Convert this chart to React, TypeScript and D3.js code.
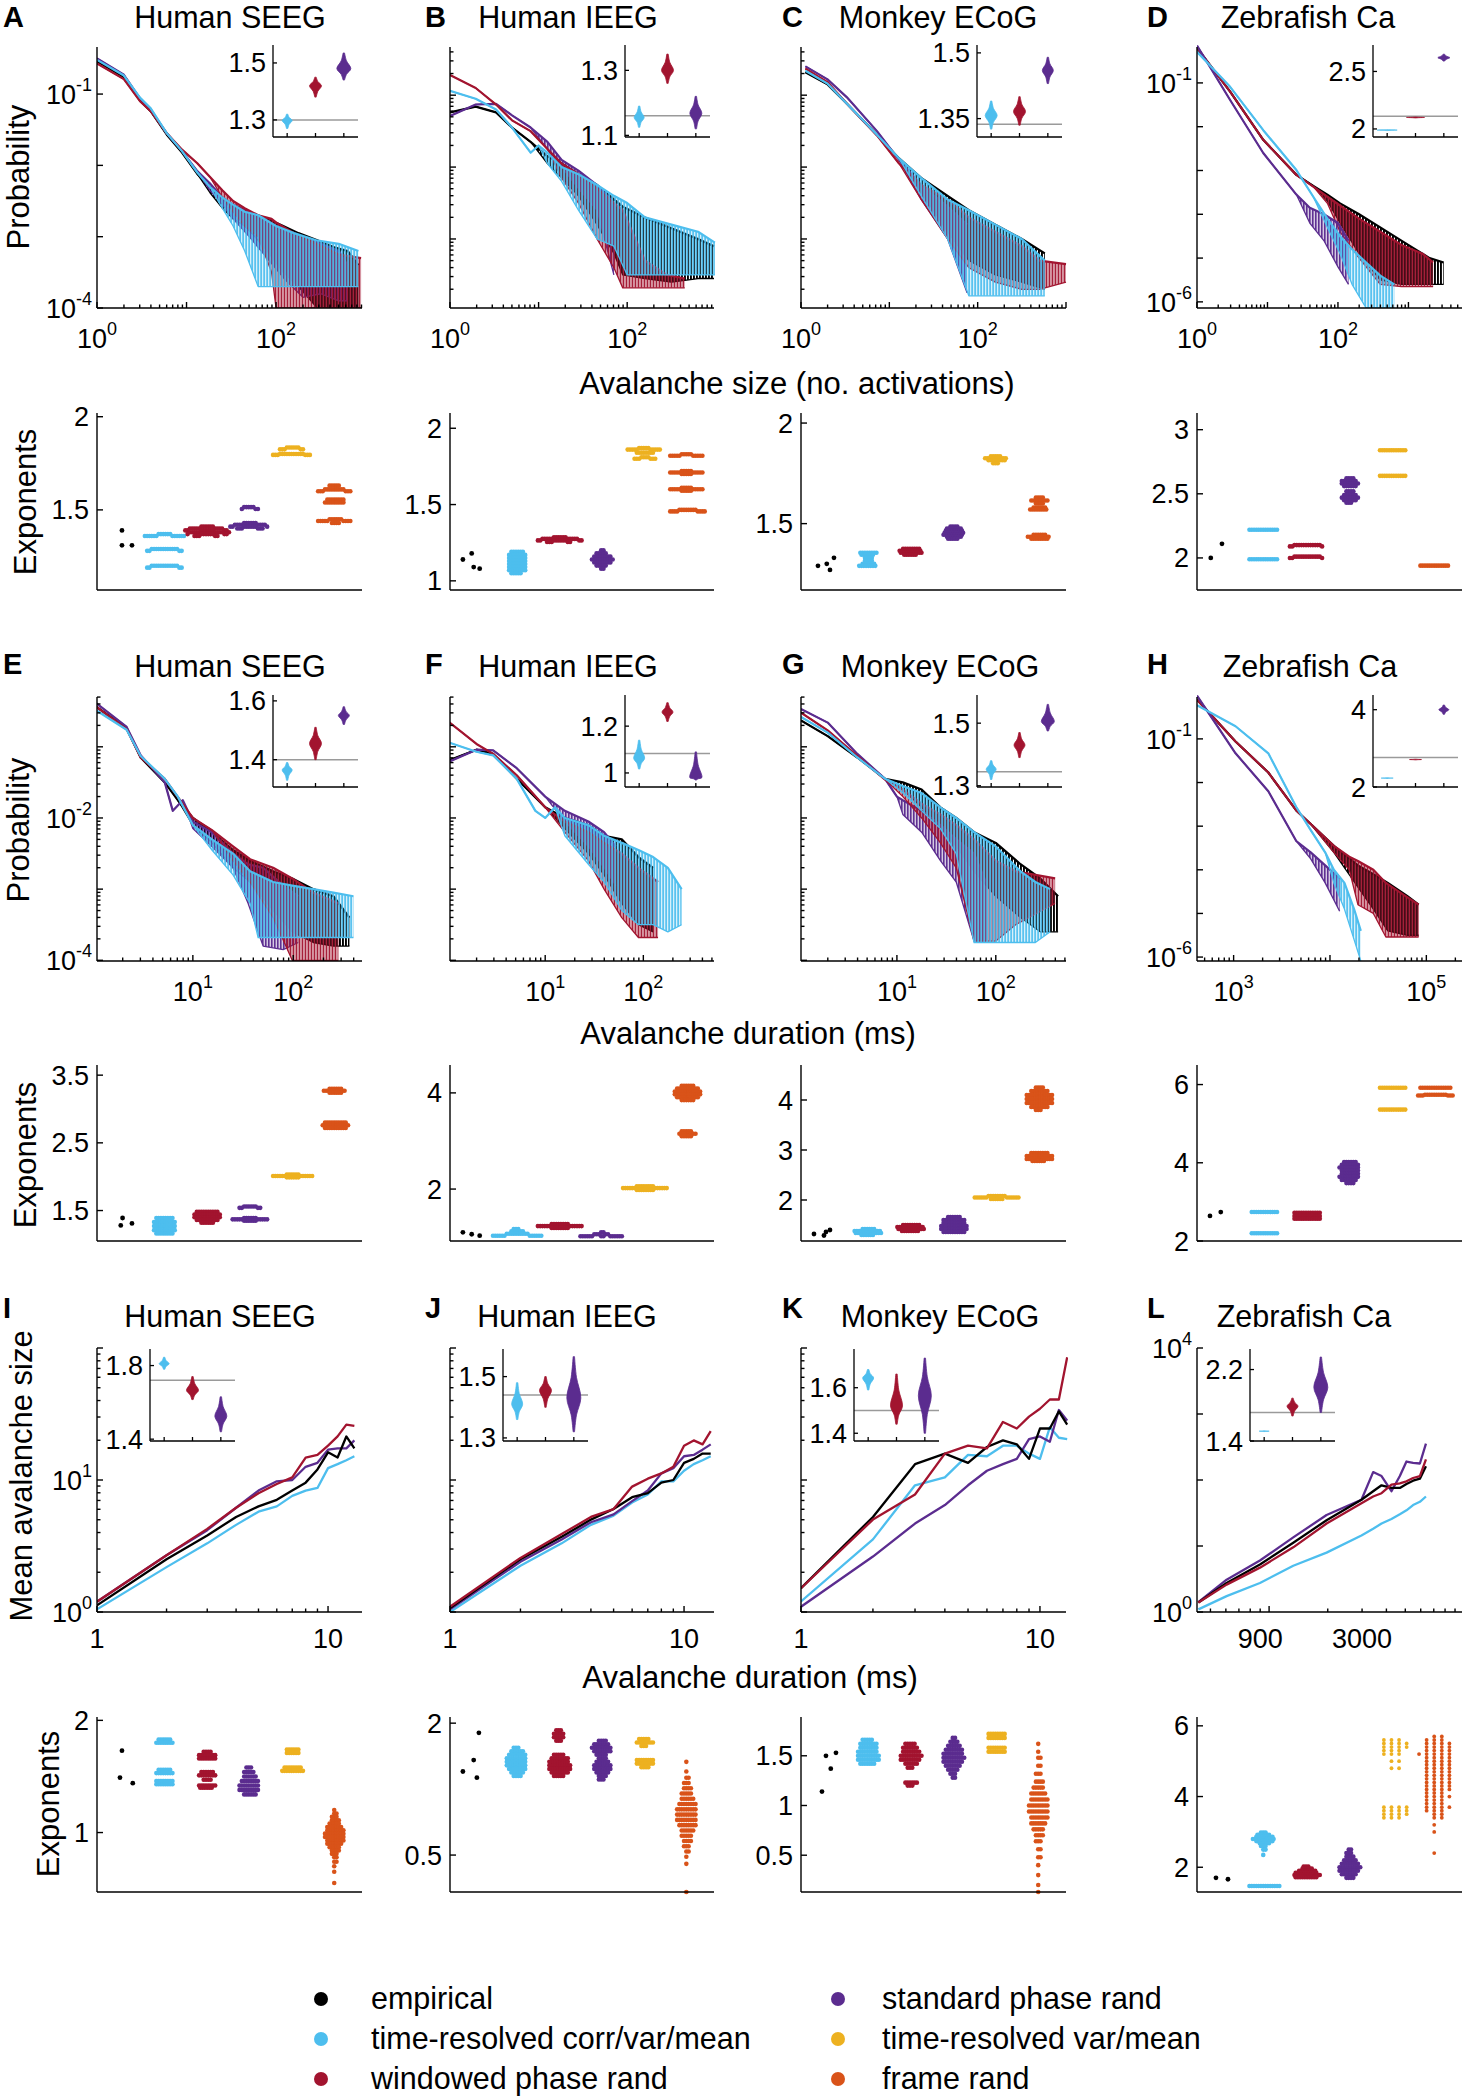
import React from "react";
import * as d3 from "d3";

const FONT = "'Liberation Sans', Arial, Helvetica, sans-serif";
const COL = { emp: "#000000", tr: "#4DBEEE", win: "#A2142F", std: "#5B2C8F", trv: "#EDB120", frame: "#D95319" };

const legendLabels = ["empirical", "time-resolved corr/var/mean", "windowed phase rand", "standard phase rand", "time-resolved var/mean", "frame rand"];
const legendKeys = ["emp", "tr", "win", "std", "trv", "frame"];
const datasetTitles = ["Human SEEG", "Human IEEG", "Monkey ECoG", "Zebrafish Ca"];
const letters = [["A", "B", "C", "D"], ["E", "F", "G", "H"], ["I", "J", "K", "L"]];

// ---------- Avalanche size distributions: [log10 size, log10 P (upper), log10 P (lower, noisy tail)] ----------
const sizeA = {
  emp: [[0,-0.54],[0.3,-0.76],[0.48,-1.09],[0.6,-1.24],[0.78,-1.57],[0.95,-1.82],[1.12,-2.12],[1.26,-2.3,-2.38],[1.4,-2.45,-2.6],[1.52,-2.6,-2.75],[1.65,-2.62,-2.85],[1.75,-2.68,-2.98],[1.9,-2.75,-3.2],[2.08,-2.85,-3.5],[2.25,-2.95,-3.7],[2.46,-3.05,-4],[2.65,-3.15,-4],[2.8,-3.2,-4],[2.92,-3.4,-4]],
  std: [[0,-0.5],[0.3,-0.73],[0.48,-1.06],[0.6,-1.22],[0.78,-1.55],[0.95,-1.8],[1.12,-2.08],[1.26,-2.25,-2.35],[1.4,-2.45,-2.55],[1.52,-2.55,-2.75],[1.7,-2.65,-3.0],[1.9,-2.8,-3.3],[2.1,-2.9,-3.6],[2.3,-3.0,-3.85],[2.5,-3.1,-3.8],[2.7,-3.2,-3.9],[2.8,-3.4,-3.9]],
  win: [[0,-0.57],[0.3,-0.79],[0.48,-1.1],[0.6,-1.24],[0.78,-1.55],[0.95,-1.78],[1.12,-1.97],[1.26,-2.16],[1.4,-2.35,-2.45],[1.52,-2.5,-2.65],[1.65,-2.6,-2.85],[1.8,-2.7,-3.0],[1.95,-2.75,-3.5],[2.0,-2.8,-4],[2.2,-2.95,-4],[2.45,-3.1,-4],[2.7,-3.25,-4],[2.95,-3.3,-4]],
  tr: [[0,-0.52],[0.3,-0.74],[0.48,-1.05],[0.6,-1.2],[0.78,-1.55],[0.95,-1.8],[1.12,-2.1],[1.26,-2.3],[1.4,-2.45,-2.6],[1.52,-2.55,-2.85],[1.65,-2.65,-3.2],[1.8,-2.7,-3.7],[2.0,-2.85,-3.7],[2.2,-2.95,-3.7],[2.45,-3.05,-3.7],[2.7,-3.1,-3.7],[2.92,-3.2,-3.7]],
};
const sizeB = {
  emp: [[0,-1.24],[0.29,-1.16],[0.52,-1.24],[0.7,-1.45],[0.91,-1.65],[1.1,-1.85,-1.95],[1.26,-1.95,-2.15],[1.45,-2.1,-2.4],[1.66,-2.25,-2.8],[1.85,-2.45,-3.2],[1.95,-2.55,-3.5],[2.2,-2.7,-3.55],[2.5,-2.85,-3.6],[2.8,-3.0,-3.55],[2.98,-3.1,-3.55]],
  std: [[0,-1.29],[0.29,-1.13],[0.52,-1.12],[0.7,-1.28],[0.91,-1.45],[1.1,-1.65,-1.75],[1.26,-1.9,-2.0],[1.45,-2.05,-2.3],[1.66,-2.25,-2.6],[1.85,-2.5,-3.5]],
  win: [[0,-0.72],[0.29,-0.9],[0.52,-1.13],[0.7,-1.35],[0.91,-1.5],[1.1,-1.75],[1.26,-1.95,-2.15],[1.45,-2.1,-2.5],[1.66,-2.3,-3.0],[1.85,-2.5,-3.4],[1.95,-2.6,-3.68],[2.2,-3.3,-3.68],[2.45,-3.5,-3.68],[2.65,-3.55,-3.68]],
  tr: [[0,-0.94],[0.29,-1.05],[0.52,-1.2],[0.7,-1.45],[0.91,-1.8],[1.0,-1.7],[1.1,-1.8,-1.95],[1.26,-2.0,-2.2],[1.45,-2.1,-2.6],[1.66,-2.25,-3.0],[1.85,-2.4,-3.1],[2.0,-2.5,-3.5],[2.2,-2.7,-3.5],[2.5,-2.8,-3.5],[2.8,-2.9,-3.5],[2.99,-3.05,-3.5]],
};
const sizeC = {
  emp: [[0.05,-0.68],[0.3,-0.85],[0.52,-1.12],[0.86,-1.55],[1.11,-1.88],[1.36,-2.15,-2.35],[1.66,-2.4,-2.9],[1.9,-2.6,-3.3],[2.2,-2.8,-3.5],[2.5,-3.0,-3.6],[2.76,-3.2,-3.7]],
  std: [[0.05,-0.6],[0.3,-0.78],[0.52,-1.03],[0.86,-1.5],[1.11,-1.9],[1.36,-2.25,-2.45],[1.66,-2.55,-3.0],[1.88,-2.8,-3.75]],
  win: [[0.05,-0.63],[0.3,-0.82],[0.52,-1.12],[0.86,-1.56],[1.11,-1.95],[1.36,-2.25,-2.45],[1.66,-2.45,-3.0],[1.9,-2.7,-3.4],[2.2,-2.9,-3.6],[2.5,-3.1,-3.7],[2.7,-3.3,-3.7],[3.0,-3.35,-3.6]],
  tr: [[0.05,-0.66],[0.3,-0.84],[0.52,-1.12],[0.86,-1.55],[1.11,-1.88],[1.36,-2.15,-2.4],[1.66,-2.45,-3.0],[1.9,-2.6,-3.79],[2.2,-2.8,-3.79],[2.5,-3.0,-3.79],[2.76,-3.3,-3.79]],
};
const sizeD = {
  emp: [[0,-0.2],[0.47,-1.2],[0.94,-2.3],[1.41,-3.1],[1.65,-3.35],[1.85,-3.55,-3.7],[2.03,-3.75,-4.2],[2.3,-4.0,-4.9],[2.6,-4.3,-5.5],[2.9,-4.6,-5.6],[3.1,-4.8,-5.6],[3.3,-5.0,-5.6],[3.5,-5.1,-5.6]],
  std: [[0,-0.15],[0.47,-1.39],[0.94,-2.6],[1.41,-3.55],[1.6,-3.85,-4.2],[1.8,-4.0,-4.6],[2.0,-4.2,-5.2],[2.15,-4.6,-5.6]],
  win: [[0,-0.2],[0.47,-1.2],[0.94,-2.3],[1.41,-3.1],[1.65,-3.37],[1.85,-3.6,-3.75],[2.03,-3.8,-4.4],[2.3,-4.1,-5.0],[2.6,-4.4,-5.6],[2.9,-4.7,-5.65],[3.2,-4.9,-5.65],[3.35,-5.1,-5.65]],
  tr: [[0,-0.29],[0.47,-1.09],[0.94,-2.08],[1.41,-2.99],[1.65,-3.6],[1.85,-4.1,-4.3],[2.03,-4.5,-4.9],[2.2,-4.8,-5.6],[2.4,-5.1,-6.14],[2.6,-5.4,-6.14],[2.8,-5.6,-6.14]],
};

// ---------- Avalanche duration distributions ----------
const durE = {
  emp: [[0.04,-0.44],[0.34,-0.74],[0.48,-1.15],[0.72,-1.5],[0.85,-1.75],[1.0,-2.0,-2.1],[1.19,-2.2,-2.35],[1.4,-2.45,-2.7],[1.57,-2.6,-2.9],[1.8,-2.75,-3.3],[1.99,-2.85,-3.6],[2.2,-3.0,-3.75],[2.4,-3.1,-3.8],[2.56,-3.4,-3.8]],
  std: [[0.04,-0.39],[0.34,-0.72],[0.48,-1.12],[0.72,-1.5],[0.8,-1.9],[0.9,-1.75],[1.0,-2.05,-2.15],[1.19,-2.2,-2.4],[1.4,-2.5,-2.7],[1.55,-2.65,-3.2],[1.7,-2.7,-3.8],[1.9,-2.95,-3.85],[2.05,-3.1,-3.75]],
  win: [[0.04,-0.44],[0.34,-0.75],[0.48,-1.15],[0.72,-1.45],[1.0,-2.0],[1.19,-2.17],[1.4,-2.4,-2.6],[1.57,-2.58,-2.9],[1.8,-2.7,-3.4],[1.99,-2.85,-4],[2.2,-3.05,-4],[2.45,-3.2,-4]],
  tr: [[0.04,-0.49],[0.34,-0.76],[0.48,-1.13],[0.72,-1.45],[0.85,-1.7],[1.0,-2.1],[1.19,-2.3,-2.45],[1.4,-2.5,-2.8],[1.57,-2.75,-3.2],[1.65,-2.8,-3.68],[1.8,-2.9,-3.68],[1.99,-2.95,-3.68],[2.2,-3.0,-3.68],[2.4,-3.05,-3.68],[2.6,-3.1,-3.68]],
};
const durF = {
  emp: [[0,-1.2],[0.3,-1.04],[0.47,-1.1],[0.71,-1.45],[1.0,-1.85],[1.2,-2.0,-2.15],[1.44,-2.1,-2.5],[1.6,-2.25,-2.8],[1.78,-2.3,-3.2],[1.95,-2.55,-3.5],[2.1,-2.7,-3.6]],
  std: [[0,-1.22],[0.3,-1.04],[0.47,-1.05],[0.71,-1.3],[1.0,-1.7],[1.2,-1.9,-2.05],[1.44,-2.05,-2.4],[1.6,-2.2,-2.7],[1.72,-2.4,-2.95]],
  win: [[0,-0.63],[0.3,-0.96],[0.47,-1.1],[0.71,-1.4],[1.0,-1.85],[1.2,-2.05,-2.2],[1.44,-2.2,-2.6],[1.6,-2.35,-3.0],[1.78,-2.5,-3.4],[1.95,-2.7,-3.68],[2.15,-2.9,-3.68]],
  tr: [[0,-0.93],[0.3,-1.07],[0.47,-1.12],[0.71,-1.45],[0.9,-1.9],[1.0,-2.0],[1.1,-1.85],[1.2,-2.0,-2.25],[1.44,-2.1,-2.65],[1.6,-2.25,-2.9],[1.78,-2.35,-3.3],[1.95,-2.45,-3.5],[2.1,-2.55,-3.5],[2.25,-2.7,-3.6],[2.39,-3.0,-3.5]],
};
const durG = {
  emp: [[0.03,-0.63],[0.3,-0.85],[0.6,-1.15],[0.88,-1.45],[1.06,-1.5,-1.6],[1.25,-1.6,-1.85],[1.44,-1.85,-2.15],[1.6,-2.0,-2.4],[1.78,-2.2,-2.75],[2.0,-2.35,-3.1],[2.25,-2.65,-3.4],[2.45,-2.85,-3.6],[2.63,-3.1,-3.6]],
  std: [[0.03,-0.47],[0.3,-0.66],[0.6,-1.1],[0.88,-1.45],[1.0,-1.7],[1.06,-1.75,-1.95],[1.25,-1.9,-2.2],[1.44,-2.1,-2.6],[1.6,-2.3,-2.9],[1.78,-2.5,-3.73],[1.9,-2.9,-3.73]],
  win: [[0.03,-0.52],[0.3,-0.77],[0.6,-1.13],[0.88,-1.46],[1.06,-1.6,-1.7],[1.25,-1.8,-2.0],[1.44,-1.95,-2.35],[1.6,-2.1,-2.7],[1.78,-2.3,-3.73],[2.0,-2.6,-3.73],[2.2,-2.75,-3.5],[2.6,-2.85,-3.2]],
  tr: [[0.03,-0.58],[0.3,-0.8],[0.6,-1.15],[0.88,-1.45],[1.06,-1.55,-1.65],[1.25,-1.65,-1.9],[1.44,-1.85,-2.15],[1.6,-2.0,-2.5],[1.78,-2.2,-3.75],[2.0,-2.4,-3.75],[2.25,-2.75,-3.75],[2.4,-2.9,-3.75],[2.55,-3.0,-3.6]],
};
const durH = {
  emp: [[2.62,-0.1],[3.02,-1.06],[3.36,-1.77],[3.65,-2.64],[3.8,-2.95],[4.04,-3.45,-3.6],[4.29,-3.9,-4.4],[4.45,-4.1,-4.9],[4.6,-4.3,-5.4],[4.8,-4.6,-5.5],[4.92,-4.8,-5.5]],
  std: [[2.62,-0.01],[3.02,-1.33],[3.36,-2.2],[3.65,-3.34],[3.8,-3.6,-3.75],[3.95,-3.9,-4.3],[4.1,-4.2,-4.95]],
  win: [[2.62,-0.1],[3.02,-1.06],[3.36,-1.77],[3.65,-2.64],[3.8,-2.95],[4.04,-3.45,-3.6],[4.2,-3.7,-4.0],[4.29,-3.8,-4.8],[4.45,-4.0,-5.0],[4.58,-4.3,-5.54],[4.75,-4.55,-5.54],[4.92,-4.8,-5.54]],
  tr: [[2.62,-0.23],[3.02,-0.71],[3.36,-1.33],[3.65,-2.56],[3.8,-3.09],[3.95,-3.6],[4.04,-4.0,-4.3],[4.15,-4.3,-4.9],[4.25,-4.9,-5.6],[4.32,-5.4,-6.09]],
};

// ---------- Mean size vs duration (log10 mean size) ----------
const durationsIJK = [1, 2, 3, 4, 5, 6, 7, 8, 9, 10, 11, 12, 13];
const scalI = {
  emp: [0.05, 0.4, 0.58, 0.72, 0.8, 0.85, 0.92, 0.98, 1.08, 1.21, 1.17, 1.33, 1.24],
  win: [0.078, 0.43, 0.63, 0.79, 0.9, 0.97, 1.02, 1.17, 1.19, 1.26, 1.33, 1.42, 1.41],
  std: [0.078, 0.43, 0.62, 0.79, 0.92, 0.99, 1.0, 1.1, 1.13, 1.23, 1.24, 1.24, 1.3],
  tr: [0.02, 0.34, 0.52, 0.66, 0.76, 0.8, 0.88, 0.92, 0.94, 1.09, 1.12, 1.15, 1.18],
};
const scalJ = {
  emp: [0.03, 0.4, 0.57, 0.7, 0.78, 0.87, 0.9, 0.98, 1.0, 1.13, 1.16, 1.2, 1.2],
  win: [0.04, 0.41, 0.59, 0.72, 0.78, 0.95, 1.01, 1.05, 1.1, 1.26, 1.3, 1.27, 1.37],
  std: [0.02, 0.38, 0.55, 0.68, 0.74, 0.84, 0.92, 1.05, 1.09, 1.18, 1.19, 1.23, 1.27],
  tr: [0.0, 0.35, 0.52, 0.66, 0.73, 0.83, 0.89, 0.99, 0.99, 1.07, 1.12, 1.15, 1.18],
};
const scalK = {
  emp: [0.18, 0.72, 1.12, 1.2, 1.13, 1.25, 1.3, 1.27, 1.16, 1.39, 1.39, 1.52, 1.42],
  win: [0.18, 0.7, 0.89, 1.2, 1.26, 1.24, 1.44, 1.39, 1.48, 1.54, 1.61, 1.61, 1.93],
  std: [0.04, 0.42, 0.67, 0.81, 0.96, 1.07, 1.12, 1.16, 1.31, 1.33, 1.29, 1.53, 1.45],
  tr: [0.08, 0.55, 0.96, 1.02, 1.19, 1.18, 1.26, 1.26, 1.2, 1.16, 1.4, 1.32, 1.31],
};
const durationsL_log = [2.637, 2.782, 2.953, 3.124, 3.295, 3.474, 3.534, 3.577, 3.628, 3.671, 3.705, 3.739, 3.774, 3.805];
const scalL = {
  emp: [0.143, 0.44, 0.72, 1.05, 1.39, 1.7, 1.83, 1.92, 1.88, 1.88, 1.94, 1.99, 2.02, 2.21],
  win: [0.143, 0.415, 0.672, 0.98, 1.34, 1.646, 1.75, 1.8, 1.929, 1.95, 1.98, 2.03, 2.06, 2.313],
  std: [0.15, 0.49, 0.78, 1.13, 1.47, 1.7, 2.12, 2.06, 1.83, 2.06, 2.28, 2.26, 2.25, 2.55],
  tr: [0.04, 0.24, 0.44, 0.7, 0.9, 1.16, 1.26, 1.34, 1.41, 1.48, 1.54, 1.62, 1.67, 1.75],
};

// ---------- Inset violins: [low, median, high, relative half-width] ----------
const insetA = { yDom: [1.24, 1.563], ticks: [1.3, 1.5], emp: 1.3, tr: [1.27, 1.298, 1.32, 5], win: [1.38, 1.42, 1.45, 6], std: [1.44, 1.48, 1.535, 7] };
const insetB = { yDom: [1.095, 1.378], ticks: [1.1, 1.3], emp: 1.16, tr: [1.125, 1.155, 1.19, 5], win: [1.26, 1.3, 1.35, 6], std: [1.12, 1.168, 1.22, 6] };
const insetC = { yDom: [1.308, 1.518], ticks: [1.35, 1.5], emp: 1.337, tr: [1.326, 1.357, 1.39, 6], win: [1.335, 1.366, 1.4, 6], std: [1.43, 1.46, 1.49, 5.5] };
const insetD = { yDom: [1.93, 2.73], ticks: [2, 2.5], emp: 2.11, tr: [1.986, 1.99, 1.994, 10], win: [2.096, 2.1, 2.104, 9], std: [2.59, 2.62, 2.65, 6] };
const insetE = { yDom: [1.307, 1.62], ticks: [1.4, 1.6], emp: 1.4, tr: [1.33, 1.365, 1.39, 5], win: [1.4, 1.455, 1.51, 6], std: [1.52, 1.55, 1.58, 5.5] };
const insetF = { yDom: [0.94, 1.333], ticks: [1, 1.2], emp: 1.083, tr: [1.017, 1.063, 1.14, 5.5], win: [1.22, 1.26, 1.3, 5.5], std: [0.97, 0.98, 1.09, 6] };
const insetG = { yDom: [1.296, 1.59], ticks: [1.3, 1.5], emp: 1.345, tr: [1.32, 1.353, 1.38, 5], win: [1.39, 1.43, 1.47, 5.5], std: [1.475, 1.505, 1.56, 6.5] };
const insetH = { yDom: [2.0, 4.38], ticks: [2, 4], emp: 2.76, tr: [2.222, 2.23, 2.238, 6], win: [2.702, 2.71, 2.718, 6], std: [3.88, 4.0, 4.12, 5] };
const insetI = { yDom: [1.39, 1.89], ticks: [1.4, 1.8], emp: 1.72, tr: [1.78, 1.81, 1.845, 5], win: [1.615, 1.665, 1.74, 6], std: [1.44, 1.525, 1.63, 6] };
const insetJ = { yDom: [1.29, 1.59], ticks: [1.3, 1.5], emp: 1.44, tr: [1.36, 1.41, 1.48, 5.5], win: [1.4, 1.455, 1.5, 6], std: [1.32, 1.43, 1.565, 7] };
const insetK = { yDom: [1.366, 1.77], ticks: [1.4, 1.6], emp: 1.5, tr: [1.59, 1.643, 1.68, 5.5], win: [1.44, 1.52, 1.66, 6], std: [1.4, 1.565, 1.73, 6.5] };
const insetL = { yDom: [1.4, 2.43], ticks: [1.4, 2.2], emp: 1.72, tr: [1.506, 1.51, 1.514, 5], win: [1.68, 1.79, 1.88, 5.5], std: [1.72, 2.0, 2.34, 7] };

// ---------- Exponent swarms: [exponent value, number of surrogates] ----------
const expA = { emp: [1.39, 1.31, 1.31], empOff: [0.9, 0.9, 3.4],
  tr: [[1.37,6],[1.36,12],[1.29,12],[1.28,4],[1.2,12],[1.19,4]],
  win: [[1.41,6],[1.4,9],[1.39,10],[1.38,10],[1.37,9],[1.36,5]],
  std: [[1.515,5],[1.505,3],[1.43,6],[1.42,8],[1.41,9],[1.4,6]],
  trv: [[1.835,6],[1.825,5],[1.8,11],[1.795,6]],
  frame: [[1.63,5],[1.61,9],[1.6,6],[1.555,8],[1.54,9],[1.45,6],[1.44,9],[1.43,4]] };
const expB = { emp: [1.14, 1.18, 1.09, 1.08], empOff: [-2.1, 0.1, 0.6, 2.1],
  tr: [[1.19,6],[1.17,8],[1.15,8],[1.13,8],[1.11,8],[1.09,8],[1.07,8],[1.05,5]],
  win: [[1.285,6],[1.275,10],[1.265,10],[1.255,5]],
  std: [[1.2,2],[1.18,5],[1.16,8],[1.14,10],[1.12,8],[1.1,5],[1.08,2]],
  trv: [[1.87,5],[1.86,10],[1.84,8],[1.81,4],[1.8,6]],
  frame: [[1.83,5],[1.82,10],[1.72,5],[1.71,10],[1.7,5],[1.61,5],[1.6,10],[1.59,5],[1.465,8],[1.455,8]] };
const expC = { emp: [1.29, 1.3, 1.27, 1.33], empOff: [-1.1, 1.1, 1.9, 2.9],
  tr: [[1.355,8],[1.345,6],[1.33,4],[1.315,4],[1.3,6],[1.29,8]],
  win: [[1.375,8],[1.365,10],[1.355,10],[1.345,6]],
  std: [[1.485,4],[1.475,7],[1.465,8],[1.455,9],[1.445,9],[1.435,7],[1.425,5]],
  trv: [[1.835,5],[1.825,10],[1.815,8],[1.8,3]],
  frame: [[1.63,4],[1.615,8],[1.6,4],[1.58,6],[1.57,8],[1.445,6],[1.435,10],[1.425,8]] };
const expD = { emp: [2.0, 2.11], empOff: [-1.9, 0.9],
  tr: [[2.22,13],[1.99,13]],
  win: [[2.1,12],[2.09,3],[2.01,12],[2.0,3]],
  std: [[2.62,4],[2.6,7],[2.58,8],[2.56,6],[2.52,4],[2.49,6],[2.47,8],[2.45,6],[2.43,3]],
  trv: [[2.84,12],[2.64,12]],
  frame: [[1.94,13]] };
const expE = { emp: [1.39, 1.28, 1.31], empOff: [1.05, 0.6, 3.4],
  tr: [[1.39,8],[1.33,10],[1.27,10],[1.21,10],[1.16,8]],
  win: [[1.48,10],[1.44,12],[1.4,12],[1.36,10],[1.32,6]],
  std: [[1.56,6],[1.54,4],[1.39,6],[1.37,10],[1.35,6]],
  trv: [[2.03,6],[2.01,12],[1.99,6]],
  frame: [[3.3,6],[3.27,10],[3.24,6],[2.8,10],[2.76,12],[2.72,10]] };
const expF = { emp: [1.1, 1.06, 1.03], empOff: [-2.1, 0.1, 2.1],
  tr: [[1.17,3],[1.12,6],[1.07,10],[1.03,12]],
  win: [[1.27,8],[1.23,12],[1.19,8]],
  std: [[1.1,2],[1.06,5],[1.02,14]],
  trv: [[2.06,8],[2.02,12],[1.98,8]],
  frame: [[4.15,6],[4.09,10],[4.03,12],[3.97,12],[3.91,10],[3.85,6],[3.2,5],[3.15,8],[3.1,5]] };
const expG = { emp: [1.32, 1.29, 1.36, 1.4], empOff: [-2.1, 0.4, 0.9, 1.9],
  tr: [[1.42,6],[1.38,12],[1.34,12],[1.3,6]],
  win: [[1.5,8],[1.46,12],[1.42,12],[1.38,8]],
  std: [[1.66,6],[1.6,10],[1.54,10],[1.48,12],[1.42,12],[1.36,10]],
  trv: [[2.08,8],[2.05,12],[2.02,6]],
  frame: [[4.25,4],[4.18,8],[4.1,12],[4.02,12],[3.94,12],[3.86,8],[3.8,3],[2.94,8],[2.88,12],[2.82,12],[2.78,6]] };
const expH = { emp: [2.64, 2.74], empOff: [-2.1, 0.6],
  tr: [[2.74,12],[2.2,12]],
  win: [[2.72,12],[2.64,12],[2.57,12]],
  std: [[4.02,6],[3.95,8],[3.88,9],[3.8,8],[3.72,8],[3.64,9],[3.56,7],[3.48,4]],
  trv: [[5.92,12],[5.36,12]],
  frame: [[5.92,14],[5.74,10],[5.72,6]] };
const expI = { emp: [1.73, 1.49, 1.44], empOff: [0.9, 0.4, 3.6],
  tr: [[1.83,6],[1.8,8],[1.56,6],[1.53,8],[1.46,8],[1.43,8]],
  win: [[1.72,4],[1.69,8],[1.66,8],[1.54,6],[1.51,8],[1.47,4],[1.42,8],[1.4,6]],
  std: [[1.58,3],[1.54,5],[1.5,6],[1.46,8],[1.42,9],[1.38,9],[1.34,6]],
  trv: [[1.74,6],[1.71,6],[1.58,8],[1.55,10]],
  frame: [[1.2,1],[1.17,2],[1.14,3],[1.11,4],[1.08,5],[1.05,7],[1.02,8],[0.99,9],[0.96,9],[0.93,8],[0.9,7],[0.87,5],[0.84,4],[0.81,3],[0.78,2],[0.74,2],[0.7,1],[0.65,1],[0.55,1]] };
const expJ = { emp: [1.45, 1.58, 1.89, 1.38], empOff: [-2.1, 0.6, 1.9, 1.4],
  tr: [[1.72,3],[1.68,6],[1.64,8],[1.6,9],[1.56,9],[1.52,9],[1.48,8],[1.44,6],[1.4,4]],
  win: [[1.92,3],[1.88,5],[1.84,5],[1.8,3],[1.64,5],[1.6,8],[1.56,9],[1.52,10],[1.48,10],[1.44,8],[1.4,5]],
  std: [[1.8,4],[1.76,7],[1.72,9],[1.68,8],[1.64,5],[1.6,4],[1.56,6],[1.52,8],[1.48,8],[1.44,6],[1.4,4],[1.36,3]],
  trv: [[1.82,5],[1.78,8],[1.74,3],[1.58,8],[1.54,8],[1.5,4]],
  frame: [[1.56,1],[1.45,1],[1.38,2],[1.32,3],[1.26,4],[1.2,5],[1.14,6],[1.08,8],[1.02,9],[0.96,9],[0.9,9],[0.84,8],[0.78,6],[0.72,5],[0.66,4],[0.6,3],[0.54,2],[0.48,1],[0.4,1],[0.08,1]] };
const expK = { emp: [1.5, 1.37, 1.14, 1.53], empOff: [0.9, 2.1, -0.1, 3.4],
  tr: [[1.66,5],[1.62,8],[1.58,8],[1.54,9],[1.5,10],[1.46,10],[1.42,7]],
  win: [[1.62,5],[1.58,7],[1.54,8],[1.5,10],[1.46,9],[1.42,6],[1.38,3],[1.23,6],[1.2,3]],
  std: [[1.68,2],[1.64,4],[1.6,6],[1.56,8],[1.52,9],[1.48,10],[1.44,9],[1.4,7],[1.36,5],[1.32,3],[1.28,2]],
  trv: [[1.72,8],[1.68,8],[1.58,8],[1.54,8]],
  frame: [[1.62,1],[1.54,1],[1.48,2],[1.4,2],[1.32,3],[1.24,4],[1.18,5],[1.12,7],[1.06,8],[1.0,9],[0.94,9],[0.88,8],[0.82,7],[0.76,5],[0.7,4],[0.64,3],[0.56,2],[0.48,2],[0.4,1],[0.3,1],[0.2,1],[0.13,1]] };
const expL = { emp: [1.7, 1.66], empOff: [-0.6, 2.4],
  tr: [[2.98,3],[2.92,6],[2.86,8],[2.8,10],[2.74,8],[2.68,5],[2.6,3],[2.5,2],[2.35,1],[1.47,14]],
  win: [[2.02,3],[1.96,5],[1.9,8],[1.84,10],[1.78,12],[1.72,10]],
  std: [[2.5,2],[2.4,3],[2.3,4],[2.2,6],[2.1,8],[2.0,10],[1.9,9],[1.8,7],[1.7,4]],
  trv: [[5.6,3],[5.5,4],[5.4,4],[5.3,3],[5.2,3],[5.0,2],[4.8,2],[3.7,4],[3.6,4],[3.5,4],[3.4,3]],
  frame: [[5.7,2],[5.6,3],[5.5,4],[5.4,4],[5.3,4],[5.2,5],[5.1,4],[5.0,4],[4.9,4],[4.8,4],[4.7,4],[4.6,4],[4.5,4],[4.4,4],[4.3,4],[4.2,4],[4.1,3],[4.0,4],[3.9,3],[3.8,3],[3.7,4],[3.6,3],[3.5,2],[3.4,2],[3.2,1],[3.0,1],[2.4,1]] };

// exponent panel axes: y domain and labelled ticks (loose = groups drawn as loose scatter)
const expAxes = [
  { dom: [1.07, 2.02], ticks: [1.5, 2] }, { dom: [0.94, 2.1], ticks: [1, 1.5, 2] }, { dom: [1.17, 2.05], ticks: [1.5, 2] }, { dom: [1.75, 3.13], ticks: [2, 2.5, 3] },
  { dom: [1.05, 3.65], ticks: [1.5, 2.5, 3.5] }, { dom: [0.92, 4.58], ticks: [2, 4] }, { dom: [1.18, 4.7], ticks: [2, 3, 4] }, { dom: [2.0, 6.5], ticks: [2, 4, 6] },
  { dom: [0.47, 2.03], ticks: [1, 2] }, { dom: [0.08, 2.07], ticks: [0.5, 2] }, { dom: [0.13, 1.89], ticks: [0.5, 1, 1.5] }, { dom: [1.3, 6.25], ticks: [2, 4, 6], loose: ["trv", "frame"] },
];

// ---------- Layout ----------
const COLX = [[97, 362], [450, 714], [801, 1066], [1197, 1462]];
const ROWS = { size: [47, 308], sizeExp: [413, 590], dur: [697, 961], durExp: [1065, 1241], scal: [1348, 1612], scalExp: [1717, 1892] };
const LETTER_X = [3, 425, 782, 1147];
const TITLE_X = [[230, 568, 938, 1308], [230, 568, 940, 1310], [220, 567, 940, 1304]];
const TICK_FS = 27;
const LABEL_FS = 31;
const TITLE_FS = 30.5;
const HATCH_PHASE = { emp: 0, std: 0.75, win: 1.5, tr: 2.25 };

function Pow({ x, y, base, sup, anchor }) {
  return (
    <text x={x} y={y} textAnchor={anchor} fontSize={TICK_FS} fontFamily={FONT}>
      {base}
      {sup !== undefined && <tspan dy={-13} fontSize={18}>{sup}</tspan>}
    </text>
  );
}

function logTicks(dom) {
  const major = [];
  const minor = [];
  for (let e = Math.floor(dom[0]) - 1; e <= Math.ceil(dom[1]); e++) {
    if (e >= dom[0] - 1e-9 && e <= dom[1] + 1e-9) major.push(e);
    for (let k = 2; k <= 9; k++) {
      const v = e + Math.log10(k);
      if (v >= dom[0] && v <= dom[1]) minor.push(v);
    }
  }
  return { major, minor };
}

function Axes({ xs, ys, x0, x1, y0, y1, xMinor, yMinor, xDom, yDom }) {
  const xt = logTicks(xDom);
  const yt = logTicks(yDom);
  return (
    <g stroke="#000" strokeWidth={1.4}>
      <line x1={x0} x2={x0} y1={y0} y2={y1} />
      <line x1={x0} x2={x1} y1={y1} y2={y1} />
      {xt.major.map((v, i) => <line key={"xM" + i} x1={xs(v)} x2={xs(v)} y1={y1} y2={y1 - 6} />)}
      {xMinor && xt.minor.map((v, i) => <line key={"xm" + i} x1={xs(v)} x2={xs(v)} y1={y1} y2={y1 - 3.5} />)}
      {yt.major.map((v, i) => <line key={"yM" + i} x1={x0} x2={x0 + 6} y1={ys(v)} y2={ys(v)} />)}
      {yMinor && yt.minor.map((v, i) => <line key={"ym" + i} x1={x0} x2={x0 + 3.5} y1={ys(v)} y2={ys(v)} />)}
    </g>
  );
}

function Inset({ x0, y0, spec }) {
  const w = 85, h = 92;
  const xs = d3.scaleLinear().domain([0.5, 3.5]).range([x0, x0 + w]);
  const ys = d3.scaleLinear().domain(spec.yDom).range([y0 + h, y0]);
  const keys = ["tr", "win", "std"];
  const violin = (v, cx) => {
    const [lo, mid, hi, hw] = v;
    const pts = [[hi, 0.7], [mid + 0.5 * (hi - mid), hw * 0.38], [mid, hw], [mid - 0.5 * (mid - lo), hw * 0.38], [lo, 0.7]];
    return d3.area().curve(d3.curveCatmullRom).y((d) => ys(d[0])).x0((d) => cx - d[1]).x1((d) => cx + d[1])(pts);
  };
  return (
    <g>
      <line x1={x0} x2={x0 + w} y1={ys(spec.emp)} y2={ys(spec.emp)} stroke="#9a9a9a" strokeWidth={1.5} />
      {keys.map((k, i) => (
        <path key={k} d={violin(spec[k], xs(i + 1))} fill={COL[k]} stroke={COL[k]} strokeWidth={0.8} />
      ))}
      <g stroke="#000" strokeWidth={1.3}>
        <line x1={x0} x2={x0} y1={y0} y2={y0 + h} />
        <line x1={x0} x2={x0 + w} y1={y0 + h} y2={y0 + h} />
        {[1, 2, 3].map((p) => <line key={p} x1={xs(p)} x2={xs(p)} y1={y0 + h} y2={y0 + h - 4} />)}
        {spec.ticks.map((t) => <line key={t} x1={x0} x2={x0 + 4} y1={ys(t)} y2={ys(t)} />)}
      </g>
      {spec.ticks.map((t) => (
        <text key={"l" + t} x={x0 - 7} y={ys(t) + 9.5} textAnchor="end" fontSize={TICK_FS} fontFamily={FONT}>{String(t)}</text>
      ))}
    </g>
  );
}

function DistPanel({ id, col, rowY, data, xDom, yDom, xLabels, yLabels, yMinor, order, inset }) {
  const [x0, x1] = COLX[col];
  const [y0, y1] = rowY;
  const xs = d3.scaleLinear().domain(xDom).range([x0, x1]);
  const ys = d3.scaleLinear().domain(yDom).range([y1, y0]);
  const area = d3.area().x((d) => xs(d[0])).y1((d) => ys(d[1])).y0((d) => ys(d.length > 2 ? d[2] : d[1]));
  const upper = d3.line().x((d) => xs(d[0])).y((d) => ys(d[1]));
  const lower = d3.line().x((d) => xs(d[0])).y((d) => ys(d.length > 2 ? d[2] : d[1]));
  return (
    <g>
      <defs>
        <clipPath id={"clip" + id}><rect x={x0} y={y0 - 2} width={x1 - x0 + 2} height={y1 - y0 + 2} /></clipPath>
      </defs>
      <g clipPath={`url(#clip${id})`}>
        {order.map((k) => (
          <g key={k}>
            <path d={area(data[k])} fill={`url(#hatch-${k})`} stroke="none" />
            <path d={lower(data[k])} fill="none" stroke={COL[k]} strokeWidth={1.3} strokeLinejoin="round" />
            <path d={upper(data[k])} fill="none" stroke={COL[k]} strokeWidth={2.2} strokeLinejoin="round" />
          </g>
        ))}
      </g>
      <Axes xs={xs} ys={ys} x0={x0} x1={x1} y0={y0} y1={y1} xMinor={true} yMinor={yMinor} xDom={xDom} yDom={yDom} />
      {xLabels.map((e) => <Pow key={"xl" + e} x={xs(e)} y={y1 + 40} base="10" sup={String(e)} anchor="middle" />)}
      {yLabels.map((e) => <Pow key={"yl" + e} x={x0 - 5} y={ys(e) + 10} base="10" sup={String(e)} anchor="end" />)}
      <Inset x0={x1 - 4 - 85} y0={y0 - 2} spec={inset} />
    </g>
  );
}

function ScalPanel({ id, col, xLog, data, xDom, yDom, xLabels, yLabels, yMinor, inset }) {
  const [x0, x1] = COLX[col];
  const [y0, y1] = ROWS.scal;
  const xs = d3.scaleLinear().domain(xDom).range([x0, x1]);
  const ys = d3.scaleLinear().domain(yDom).range([y1, y0]);
  const line = d3.line().x((d) => xs(d[0])).y((d) => ys(d[1]));
  const order = ["tr", "std", "emp", "win"];
  return (
    <g>
      <defs>
        <clipPath id={"clip" + id}><rect x={x0} y={y0 - 2} width={x1 - x0 + 2} height={y1 - y0 + 2} /></clipPath>
      </defs>
      <g clipPath={`url(#clip${id})`}>
        {order.map((k) => (
          <path key={k} d={line(d3.zip(xLog, data[k]))} fill="none" stroke={COL[k]} strokeWidth={2.3} strokeLinejoin="round" />
        ))}
      </g>
      <Axes xs={xs} ys={ys} x0={x0} x1={x1} y0={y0} y1={y1} xMinor={true} yMinor={yMinor} xDom={xDom} yDom={yDom} />
      {xLabels.map((t) => (
        <text key={"xl" + t} x={xs(Math.log10(t))} y={y1 + 36} textAnchor="middle" fontSize={TICK_FS} fontFamily={FONT}>{String(t)}</text>
      ))}
      {yLabels.map((e) => <Pow key={"yl" + e} x={x0 - 5} y={ys(e) + 10} base="10" sup={String(e)} anchor="end" />)}
      <Inset x0={x0 + 53} y0={y0 + 1} spec={inset} />
    </g>
  );
}

// beeswarm: d = collision distance, sx = horizontal stretch of the collision metric
function swarm(pairs, ys, cx, d, sx) {
  const vals = [];
  pairs.forEach(([v, n]) => { for (let i = 0; i < n; i++) vals.push(v); });
  const placed = [];
  const stepX = (d * sx) / 2;
  vals.forEach((v) => {
    const py = ys(v);
    let off = 0;
    for (let k = 0; k < 400; k++) {
      const cand = k === 0 ? 0 : (k % 2 ? 1 : -1) * Math.ceil(k / 2) * stepX;
      let ok = true;
      for (const p of placed) {
        const dx = (p.x - cand) / sx, dy = p.y - py;
        if (dx * dx + dy * dy < d * d - 1e-6) { ok = false; break; }
      }
      if (ok) { off = cand; break; }
    }
    placed.push({ x: off, y: py });
  });
  return placed.map((p) => ({ x: cx + p.x, y: p.y }));
}

function ExpPanel({ col, rowY, data, axis }) {
  const [x0, x1] = COLX[col];
  const [y0, y1] = rowY;
  const xs = d3.scaleLinear().domain([-0.55, 5.65]).range([x0, x1]);
  const ys = d3.scaleLinear().domain(axis.dom).range([y1, y0]);
  const groups = ["tr", "win", "std", "trv", "frame"];
  const loose = axis.loose || [];
  return (
    <g>
      {groups.map((k, gi) => {
        const isLoose = loose.includes(k);
        const pts = isLoose ? swarm(data[k], ys, xs(gi + 1), 3.3, 2.3) : swarm(data[k], ys, xs(gi + 1), 2.3, 1);
        return (
          <g key={k} fill={COL[k]}>
            {pts.map((p, i) => <circle key={i} cx={p.x} cy={p.y} r={isLoose ? 1.9 : 2.3} />)}
          </g>
        );
      })}
      {data.emp.map((v, i) => <circle key={"e" + i} cx={xs(-0.05) + data.empOff[i] * 4} cy={ys(v)} r={2.4} fill="#000" />)}
      <g stroke="#000" strokeWidth={1.4}>
        <line x1={x0} x2={x0} y1={y0} y2={y1} />
        <line x1={x0} x2={x1} y1={y1} y2={y1} />
        {axis.ticks.map((t) => <line key={t} x1={x0} x2={x0 + 6} y1={ys(t)} y2={ys(t)} />)}
      </g>
      {axis.ticks.map((t) => (
        <text key={"t" + t} x={x0 - 8} y={ys(t) + 9.5} textAnchor="end" fontSize={TICK_FS} fontFamily={FONT}>{String(t)}</text>
      ))}
    </g>
  );
}

function RotLabel({ x, y, text }) {
  return <text transform={`translate(${x},${y}) rotate(-90)`} textAnchor="middle" fontSize={LABEL_FS} fontFamily={FONT}>{text}</text>;
}

export default function App() {
  const sizeData = [sizeA, sizeB, sizeC, sizeD];
  const durData = [durE, durF, durG, durH];
  const sizeInsets = [insetA, insetB, insetC, insetD];
  const durInsets = [insetE, insetF, insetG, insetH];
  const sizeXDom = [[0, 2.96], [0, 2.98], [0, 3.0], [0, 3.76]];
  const sizeYDom = [[-4, -0.34], [-3.96, -0.33], [-3.96, -0.33], [-6.14, -0.18]];
  const sizeYLab = [[-1, -4], [], [], [-1, -6]];
  const sizeOrder = [["emp", "std", "win", "tr"], ["emp", "std", "win", "tr"], ["emp", "std", "win", "tr"], ["emp", "win", "std", "tr"]];
  const durXDom = [[0.045, 2.685], [0.03, 2.72], [0.03, 2.71], [2.62, 5.37]];
  const durYDom = [[-4.01, -0.3], [-4.01, -0.3], [-4.01, -0.3], [-6.09, -0.04]];
  const durXLab = [[1, 2], [1, 2], [1, 2], [3, 5]];
  const durYLab = [[-2, -4], [], [], [-1, -6]];
  const durOrder = [["emp", "std", "win", "tr"], ["emp", "std", "win", "tr"], ["emp", "std", "win", "tr"], ["emp", "win", "std", "tr"]];
  const sizeExp = [expA, expB, expC, expD];
  const durExp = [expE, expF, expG, expH];
  const scalExp = [expI, expJ, expK, expL];
  const ijk = durationsIJK.map((d) => Math.log10(d));

  return (
    <svg width={1465} height={2100} style={{ position: "absolute", left: 0, top: 0, background: "#fff" }} fontFamily={FONT}>
      <defs>
        {Object.keys(HATCH_PHASE).map((k) => (
          <pattern key={k} id={`hatch-${k}`} width={3} height={4} patternUnits="userSpaceOnUse" patternTransform={`translate(${HATCH_PHASE[k]},0)`}>
            <rect x={0} y={0} width={1.9} height={4} fill={COL[k]} />
          </pattern>
        ))}
      </defs>
      <rect x={0} y={0} width={1465} height={2100} fill="#fff" />
      {/* Titles & letters */}
      {[27, 674, 1318].map((ly, r) =>
        [0, 1, 2, 3].map((c) => (
          <g key={`t${r}${c}`}>
            <text x={LETTER_X[c]} y={ly} fontSize={29} fontWeight="bold" fontFamily={FONT}>{letters[r][c]}</text>
            <text x={TITLE_X[r][c]} y={[28, 677, 1327][r]} textAnchor="middle" fontSize={TITLE_FS} fontFamily={FONT}>{datasetTitles[c]}</text>
          </g>
        ))
      )}

      {/* Row 1: size distributions */}
      {[0, 1, 2, 3].map((c) => (
        <DistPanel key={"s" + c} id={"s" + c} col={c} rowY={ROWS.size} data={sizeData[c]} xDom={sizeXDom[c]} yDom={sizeYDom[c]}
          xLabels={[0, 2]} yLabels={sizeYLab[c]} yMinor={c === 1 || c === 2} order={sizeOrder[c]} inset={sizeInsets[c]} />
      ))}
      <text x={797} y={394} textAnchor="middle" fontSize={LABEL_FS} fontFamily={FONT}>Avalanche size (no. activations)</text>
      {[0, 1, 2, 3].map((c) => <ExpPanel key={"se" + c} col={c} rowY={ROWS.sizeExp} data={sizeExp[c]} axis={expAxes[c]} />)}

      {/* Row 3: duration distributions */}
      {[0, 1, 2, 3].map((c) => (
        <DistPanel key={"d" + c} id={"d" + c} col={c} rowY={ROWS.dur} data={durData[c]} xDom={durXDom[c]} yDom={durYDom[c]}
          xLabels={durXLab[c]} yLabels={durYLab[c]} yMinor={c !== 3} order={durOrder[c]} inset={durInsets[c]} />
      ))}
      <text x={748} y={1044} textAnchor="middle" fontSize={LABEL_FS} fontFamily={FONT}>Avalanche duration (ms)</text>
      {[0, 1, 2, 3].map((c) => <ExpPanel key={"de" + c} col={c} rowY={ROWS.durExp} data={durExp[c]} axis={expAxes[4 + c]} />)}

      {/* Row 5: scaling */}
      <ScalPanel id="I" col={0} xLog={ijk} data={scalI} xDom={[0, 1.147]} yDom={[0, 2.0]} xLabels={[1, 10]} yLabels={[0, 1]} yMinor={true} inset={insetI} />
      <ScalPanel id="J" col={1} xLog={ijk} data={scalJ} xDom={[0, 1.128]} yDom={[0, 2.0]} xLabels={[1, 10]} yLabels={[]} yMinor={true} inset={insetJ} />
      <ScalPanel id="K" col={2} xLog={ijk} data={scalK} xDom={[0, 1.109]} yDom={[0, 2.0]} xLabels={[1, 10]} yLabels={[]} yMinor={true} inset={insetK} />
      <ScalPanel id="L" col={3} xLog={durationsL_log} data={scalL} xDom={[2.63, 3.99]} yDom={[0, 4]} xLabels={[900, 3000]} yLabels={[0, 4]} yMinor={false} inset={insetL} />
      <text x={750} y={1688} textAnchor="middle" fontSize={LABEL_FS} fontFamily={FONT}>Avalanche duration (ms)</text>
      {[0, 1, 2, 3].map((c) => <ExpPanel key={"ce" + c} col={c} rowY={ROWS.scalExp} data={scalExp[c]} axis={expAxes[8 + c]} />)}

      {/* Y axis labels */}
      <RotLabel x={29} y={177} text="Probability" />
      <RotLabel x={36} y={502} text="Exponents" />
      <RotLabel x={29} y={830} text="Probability" />
      <RotLabel x={36} y={1155} text="Exponents" />
      <RotLabel x={32} y={1476} text="Mean avalanche size" />
      <RotLabel x={59} y={1804} text="Exponents" />

      {/* Legend */}
      {legendLabels.map((lab, i) => {
        const colI = Math.floor(i / 3), rowI = i % 3;
        const cx = colI === 0 ? 321 : 838;
        const tx = colI === 0 ? 371 : 882;
        const cy = 1999 + rowI * 40;
        return (
          <g key={lab}>
            <circle cx={cx} cy={cy} r={7} fill={COL[legendKeys[i]]} />
            <text x={tx} y={cy + 10} fontSize={30.5} fontFamily={FONT}>{lab}</text>
          </g>
        );
      })}
    </svg>
  );
}
